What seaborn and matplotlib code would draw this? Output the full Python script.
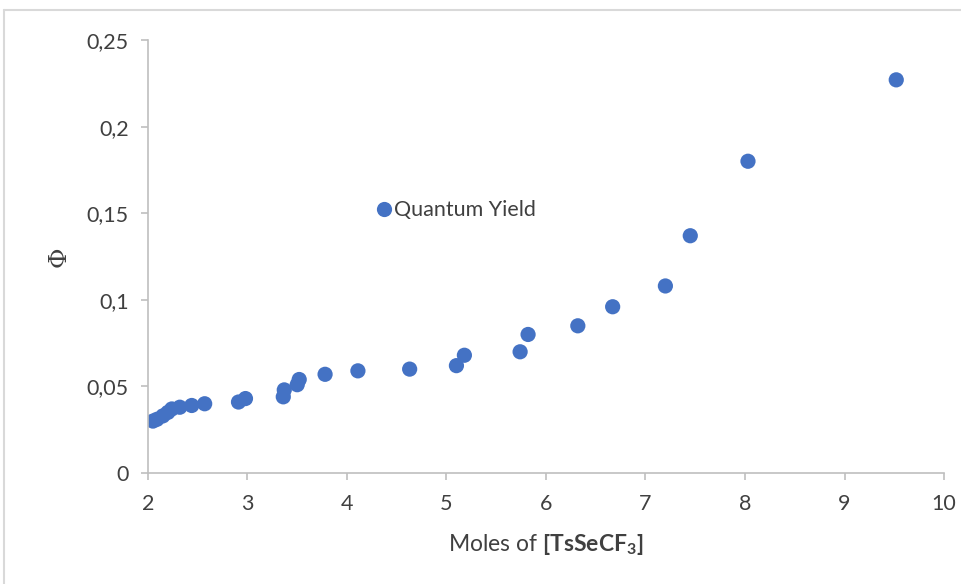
import pandas as pd
import matplotlib.pyplot as plt
import seaborn as sns
from matplotlib.lines import Line2D
from matplotlib.ticker import FuncFormatter

# moles of TsSeCF3 vs quantum yield
moles = [2.05, 2.09, 2.15, 2.20, 2.24, 2.32, 2.44, 2.57, 2.91, 2.98,
         3.36, 3.37, 3.50, 3.52, 3.78, 4.11, 4.63, 5.10, 5.18, 5.74,
         5.82, 6.32, 6.67, 7.20, 7.45, 8.03, 9.52]
phi = [0.030, 0.031, 0.033, 0.035, 0.037, 0.038, 0.039, 0.040, 0.041, 0.043,
       0.044, 0.048, 0.051, 0.054, 0.057, 0.059, 0.060, 0.062, 0.068, 0.070,
       0.080, 0.085, 0.096, 0.108, 0.137, 0.180, 0.227]
series = ["Quantum Yield"] * len(moles)

df = pd.DataFrame({"Moles": moles, "Phi": phi, "Series": series})

sns.set_style("white")
plt.rcParams["font.family"] = ["Lato", "DejaVu Sans"]
plt.rcParams["mathtext.fontset"] = "custom"
plt.rcParams["mathtext.rm"] = "Lato"
plt.rcParams["mathtext.bf"] = "Lato:bold"

fig = plt.figure(figsize=(9.62, 5.84), dpi=100)
ax = fig.add_axes([0.1538, 0.190, 0.8275, 0.7415])

sns.scatterplot(data=df, x="Moles", y="Phi", hue="Series", palette=["#4472C4"],
                s=120, edgecolor="none", ax=ax)

ax.set_xlim(2, 10)
ax.set_ylim(0, 0.25)
ax.set_xticks(range(2, 11))
ax.set_yticks([0, 0.05, 0.1, 0.15, 0.2, 0.25])
ax.yaxis.set_major_formatter(FuncFormatter(lambda v, p: f"{v:g}".replace(".", ",")))

for side in ["top", "right"]:
    ax.spines[side].set_visible(False)
for side in ["left", "bottom"]:
    ax.spines[side].set_color("#BFBFBF")
    ax.spines[side].set_linewidth(1.2)
ax.tick_params(axis="both", which="major", direction="out", length=5, width=1.2,
               color="#BFBFBF", labelsize=15.5, labelcolor="#404040",
               left=True, bottom=True)
ax.tick_params(axis="x", pad=10)
ax.tick_params(axis="y", pad=9)

ax.set_xlabel(r"Moles of $\mathbf{[TsSeCF_3]}$", fontsize=16.5, color="#404040", labelpad=13)
ax.set_ylabel("Φ", fontsize=18, color="#404040", labelpad=11, family="DejaVu Serif")

ax.legend(loc="center left", bbox_to_anchor=(0.261, 0.607), frameon=False,
          fontsize=15.5, handlelength=0.8, handletextpad=0.1, labelcolor="#404040")

# light frame around the chart area
fig.add_artist(Line2D([4 / 962, 1.0], [1 - 10 / 584] * 2, color="#D9D9D9", lw=1.5,
                      transform=fig.transFigure))
fig.add_artist(Line2D([4 / 962] * 2, [0.0, 1 - 10 / 584], color="#D9D9D9", lw=1.5,
                      transform=fig.transFigure))

fig.savefig("out.png", dpi=100)
